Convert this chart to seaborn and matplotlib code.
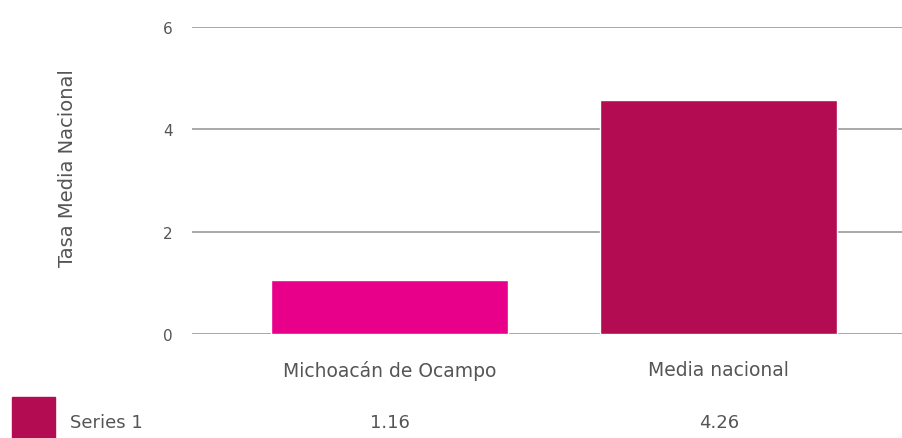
import pandas as pd
import numpy as np
import seaborn as sns
import matplotlib.pyplot as plt
import matplotlib.transforms as mtransforms
from matplotlib.patches import Rectangle

# data
categories = ['Michoacán de Ocampo', 'Media nacional']
bar_heights = [1.05, 4.58]          # height of the bars as drawn
table_labels = ['1.16', '4.26']     # values shown in the table row
series_name = 'Series 1'
bar_colors = ['#E8008A', '#B30C52']
y_ticks = [0, 2, 4, 6]

sns.set_style('white')
plt.rcParams['font.family'] = ['DejaVu Sans']

df = pd.DataFrame({'cat': categories, 'val': bar_heights})

fig = plt.figure(figsize=(9.03, 4.39), dpi=100)
ax = fig.add_axes([0.2126, 0.237, 0.7874, 0.699])

# gridlines behind bars
for t in y_ticks:
    ax.axhline(t, color='#a8a8a8', lw=1.4, zorder=0)

sns.barplot(data=df, x='cat', y='val', hue='cat', palette=bar_colors,
            width=0.72, saturation=1, legend=False, ax=ax, zorder=2)

txt = '#555555'
ax.set_xlim(-0.6, 1.56)
ax.set_ylim(0, 6)
ax.set_yticks(y_ticks)
ax.set_yticklabels([str(t) for t in y_ticks], color=txt, fontsize=11)
ax.tick_params(axis='y', length=0, pad=14)
ax.set_xticks(range(len(categories)))
ax.set_xticklabels(categories, color=txt, fontsize=13.5)
ax.tick_params(axis='x', length=0, pad=19)
ax.set_xlabel('')
ax.set_ylabel('')
for s in ax.spines.values():
    s.set_visible(False)

fig.text(0.075, 0.618, 'Tasa Media Nacional', rotation=90, ha='center', va='center',
         color=txt, fontsize=14)

# data table row
trans = mtransforms.blended_transform_factory(ax.transData, fig.transFigure)
row_y = (439 - 423) / 439
for i, lab in enumerate(table_labels):
    ax.text(i, row_y, lab, transform=trans, ha='center', va='center',
            color=txt, fontsize=13)
fig.patches.append(Rectangle((12 / 903, 0), 43 / 903, 41 / 439, transform=fig.transFigure,
                             color=bar_colors[1], zorder=3))
fig.text(70 / 903, row_y, series_name, ha='left', va='center', color=txt, fontsize=13)

fig.savefig('out.png', dpi=100)
